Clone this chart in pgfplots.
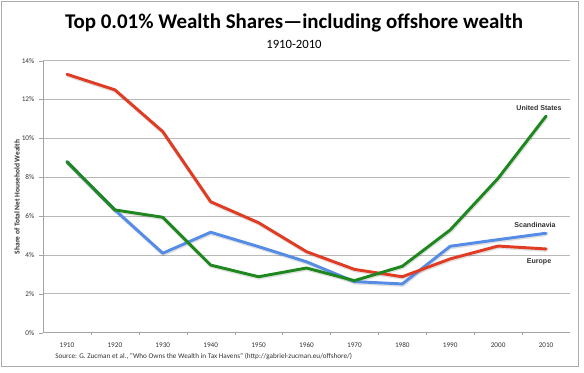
\documentclass[border=0pt]{standalone}
\usepackage{pgfplots}
\pgfplotsset{compat=1.18}
\usepackage{fontspec}
\setmainfont{Carlito}
\newfontfamily\arialf{Liberation Sans}
\definecolor{cred}{RGB}{225,60,35}
\definecolor{cgreen}{RGB}{30,135,30}
\definecolor{cblue}{RGB}{85,140,230}
\definecolor{cgrid}{RGB}{185,185,185}
\definecolor{caxis}{RGB}{165,165,165}
\definecolor{ctext}{RGB}{50,50,50}
\begin{document}
\begin{tikzpicture}
\useasboundingbox (0,0) rectangle (438pt,279.75pt);
\begin{axis}[
  at={(32.25pt,30.225pt)}, anchor=south west,
  scale only axis, width=395.25pt, height=204pt,
  xmin=-0.5, xmax=10.5, ymin=0, ymax=14,
  axis x line*=bottom, axis y line*=left,
  axis line style={caxis, line width=0.6pt},
  xtick={0,1,2,3,4,5,6,7,8,9,10},
  xticklabels={1910,1920,1930,1940,1950,1960,1970,1980,1990,2000,2010},
  minor x tick num=1,
  major x tick style={draw=none},
  minor x tick style={caxis},
  ytick={0,2,4,6,8,10,12,14},
  yticklabels={0\%,2\%,4\%,6\%,8\%,10\%,12\%,14\%},
  ymajorgrids, grid style={cgrid, line width=0.6pt},
  major y tick style={caxis},
  tick align=outside, major tick length=3pt, minor tick length=2pt,
  ticklabel style={font=\fontsize{5.4}{6}\selectfont, text=ctext},
  xticklabel style={yshift=-1pt},
  clip=false,
  every axis plot/.append style={line width=2.2pt, line join=round, line cap=round},
]
% shadows
\addplot[black, opacity=0.12, line width=2.8pt, shift={(0.4pt,-0.8pt)}] coordinates {(0,8.8) (1,6.32) (2,4.09) (3,5.17) (4,4.43) (5,3.65) (6,2.63) (7,2.51) (8,4.45) (9,4.79) (10,5.12)};
\addplot[black, opacity=0.12, line width=2.8pt, shift={(0.4pt,-0.8pt)}] coordinates {(0,13.3) (1,12.5) (2,10.35) (3,6.74) (4,5.66) (5,4.17) (6,3.26) (7,2.88) (8,3.8) (9,4.46) (10,4.31)};
\addplot[black, opacity=0.12, line width=2.8pt, shift={(0.4pt,-0.8pt)}] coordinates {(0,8.8) (1,6.32) (2,5.94) (3,3.48) (4,2.88) (5,3.33) (6,2.68) (7,3.42) (8,5.29) (9,7.95) (10,11.15)};
% Scandinavia
\addplot[cblue] coordinates {(0,8.8) (1,6.32) (2,4.09) (3,5.17) (4,4.43) (5,3.65) (6,2.63) (7,2.51) (8,4.45) (9,4.79) (10,5.12)};
% Europe
\addplot[cred] coordinates {(0,13.3) (1,12.5) (2,10.35) (3,6.74) (4,5.66) (5,4.17) (6,3.26) (7,2.88) (8,3.8) (9,4.46) (10,4.31)};
% United States
\addplot[cgreen] coordinates {(0,8.8) (1,6.32) (2,5.94) (3,3.48) (4,2.88) (5,3.33) (6,2.68) (7,3.42) (8,5.29) (9,7.95) (10,11.15)};
\end{axis}
\begin{scope}[x=0.75pt,y=-0.75pt,shift={(0pt,279.75pt)}]
\draw[gray!65, line width=0.9pt] (1.5,1.5) rectangle (578.5,366.5);
\node[font=\bfseries\fontsize{15.7}{18}\selectfont] at (294,23) {Top 0.01\% Wealth Shares—including offshore wealth};
\node[font=\fontsize{9.5}{11}\selectfont] at (294,44) {1910-2010};
\node[rotate=90, font=\bfseries\fontsize{5.6}{6.5}\selectfont, text=ctext] at (17,197) {Share of Total Net Household Wealth};
\node[anchor=west, font=\fontsize{5.4}{6}\selectfont, text=ctext, inner sep=0pt] at (55,356) {Source: G. Zucman et al., "Who Owns the Wealth in Tax Havens" (http://gabriel-zucman.eu/offshore/)};
\node[font=\arialf\bfseries\fontsize{5.3}{6}\selectfont, text=ctext] at (539,108) {United States};
\node[font=\arialf\bfseries\fontsize{5.3}{6}\selectfont, text=ctext] at (535,225) {Scandinavia};
\node[font=\arialf\bfseries\fontsize{5.3}{6}\selectfont, text=ctext] at (539,262) {Europe};
\end{scope}
\end{tikzpicture}
\end{document}
